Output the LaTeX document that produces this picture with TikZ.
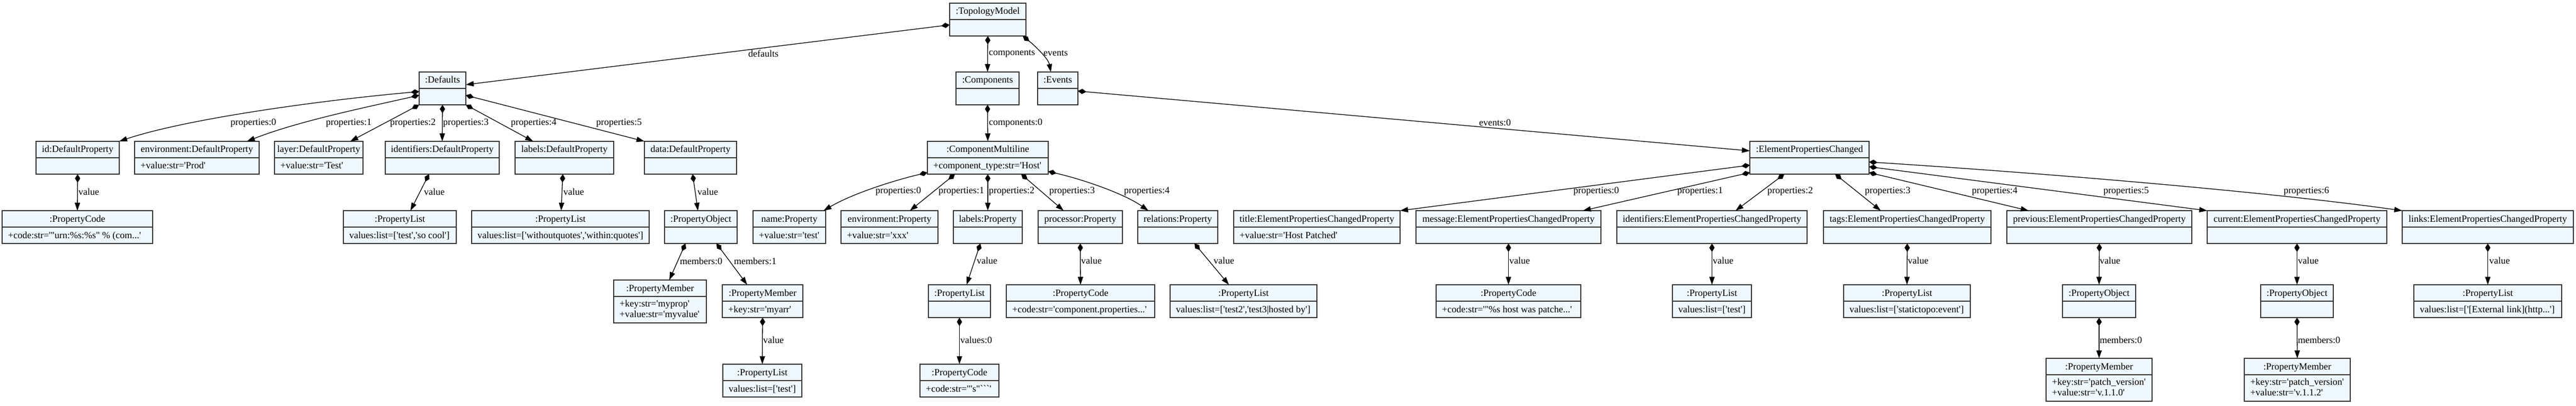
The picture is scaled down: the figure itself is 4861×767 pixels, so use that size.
\documentclass[tikz,border=0pt]{standalone}
\usepackage{fontspec}
\newfontfamily\gvfont{Liberation Serif}
\usetikzlibrary{arrows.meta,calc}
\definecolor{boxfill}{HTML}{F0F8FF}
\definecolor{boxdraw}{HTML}{333333}
\newcommand\obox[6]{%
  \pgfmathsetmacro\obw{#3-#2}%
  \node[objbox, minimum width=\obw pt, minimum height=62pt, anchor=north west] (#1) at (#2,#4) {};
  \draw[objline] ($(#1.north west)+(0,31)$) -- ($(#1.north east)+(0,31)$);
  \node[hdrtext] (#1-h) at ($(#1.north)+(0,21)$) {#5};
  \node[attrtext] (#1-a) at ($(#1.north west)+(11,52)$) {#6};
}
\newcommand\oboxm[7]{%
  \pgfmathsetmacro\obw{#3-#2}%
  \node[objbox, minimum width=\obw pt, minimum height=81pt, anchor=north west] (#1) at (#2,#4) {};
  \draw[objline] ($(#1.north west)+(0,31)$) -- ($(#1.north east)+(0,31)$);
  \node[hdrtext] (#1-h) at ($(#1.north)+(0,21)$) {#5};
  \node[attrtext] (#1-a) at ($(#1.north west)+(11,50.5)$) {#6};
  \node[attrtext] (#1-b) at ($(#1.north west)+(11,70)$) {#7};
}
\begin{document}
\begin{tikzpicture}[x=1pt,y=-1pt,
  objbox/.style={draw=boxdraw, fill=boxfill, line width=1.5pt, rectangle, inner sep=0pt, outer sep=0pt},
  objline/.style={draw=boxdraw, line width=1.5pt},
  gvtext/.style={font=\gvfont\fontsize{18}{21}\selectfont, inner sep=0pt},
  hdrtext/.style={gvtext, anchor=base},
  attrtext/.style={gvtext, anchor=base west},
  lbl/.style={gvtext, anchor=west},
  comp/.style={line width=1.3pt, {Diamond[length=16pt,width=10pt]}-{Triangle[length=15pt,width=10pt]}},
]
\useasboundingbox (0,0) rectangle (4861,767);
\fill[white] (0,0) rectangle (4861,767);

% rank 0
\obox{tm}{1792}{1936}{6}{:TopologyModel}{}
% rank 1
\obox{defaults}{791}{879}{136}{:Defaults}{}
\obox{components}{1804}{1923}{136}{:Components}{}
\obox{events}{1958}{2034}{136}{:Events}{}
% rank 2
\obox{idp}{68}{225}{267}{id:DefaultProperty}{}
\obox{envp}{254}{489}{267}{environment:DefaultProperty}{+value:str='Prod'}
\obox{layerp}{518}{685}{267}{layer:DefaultProperty}{+value:str='Test'}
\obox{identp}{727}{942}{267}{identifiers:DefaultProperty}{}
\obox{labelsp}{972}{1158}{267}{labels:DefaultProperty}{}
\obox{datap}{1216}{1390}{267}{data:DefaultProperty}{}
\obox{cm}{1750}{1978}{267}{:ComponentMultiline}{+component\_type:str='Host'}
\obox{epc}{3302}{3527}{267}{:ElementPropertiesChanged}{}
% rank 3
\obox{idcode}{4}{288}{398}{:PropertyCode}{+code:str='"urn:\%s:\%s" \% (com...'}
\obox{identlist}{648}{861}{398}{:PropertyList}{values:list=['test','so cool']}
\obox{labelslist}{890}{1225}{398}{:PropertyList}{values:list=['withoutquotes','within:quotes']}
\obox{dataobj}{1254}{1391}{398}{:PropertyObject}{}
\obox{namep}{1421}{1558}{398}{name:Property}{+value:str='test'}
\obox{cenvp}{1587}{1770}{398}{environment:Property}{+value:str='xxx'}
\obox{clabelsp}{1799}{1929}{398}{labels:Property}{}
\obox{procp}{1959}{2118}{398}{processor:Property}{}
\obox{relp}{2147}{2298}{398}{relations:Property}{}
\obox{titlep}{2328}{2642}{398}{title:ElementPropertiesChangedProperty}{+value:str='Host Patched'}
\obox{msgp}{2672}{3021}{398}{message:ElementPropertiesChangedProperty}{}
\obox{eidentp}{3051}{3410}{398}{identifiers:ElementPropertiesChangedProperty}{}
\obox{tagsp}{3441}{3757}{398}{tags:ElementPropertiesChangedProperty}{}
\obox{prevp}{3787}{4136}{398}{previous:ElementPropertiesChangedProperty}{}
\obox{curp}{4165}{4504}{398}{current:ElementPropertiesChangedProperty}{}
\obox{linksp}{4533}{4856}{398}{links:ElementPropertiesChangedProperty}{}
% rank 4
\oboxm{mem0}{1158}{1333}{529}{:PropertyMember}{+key:str='myprop'}{+value:str='myvalue'}
\obox{mem1}{1363}{1515}{538}{:PropertyMember}{+key:str='myarr'}
\obox{clabelslist}{1752}{1869}{538}{:PropertyList}{}
\obox{proccode}{1899}{2179}{538}{:PropertyCode}{+code:str='component.properties...'}
\obox{rellist}{2208}{2485}{538}{:PropertyList}{values:list=['test2','test3|hosted by']}
\obox{msgcode}{2710}{2983}{538}{:PropertyCode}{+code:str='"\%s host was patche...'}
\obox{eidentlist}{3156}{3305}{538}{:PropertyList}{values:list=['test']}
\obox{tagslist}{3479}{3718}{538}{:PropertyList}{values:list=['statictopo:event']}
\obox{prevobj}{3892}{4030}{538}{:PropertyObject}{}
\obox{curobj}{4266}{4403}{538}{:PropertyObject}{}
\obox{linkslist}{4555}{4834}{538}{:PropertyList}{values:list=['[External link](http...']}
% rank 5
\obox{mem1list}{1364}{1513}{688}{:PropertyList}{values:list=['test']}
\obox{clabelscode}{1736}{1885}{688}{:PropertyCode}{+code:str='"s"```'}
\oboxm{prevmem}{3861}{4061}{677}{:PropertyMember}{+key:str='patch\_version'}{+value:str='v.1.1.0'}
\oboxm{curmem}{4235}{4435}{677}{:PropertyMember}{+key:str='patch\_version'}{+value:str='v.1.1.2'}

% edges from TopologyModel
\draw[comp] ($(tm.west)+(0,10)$) -- ($(defaults.east)+(0,-7)$);
\draw[comp] (tm.south) -- (components.north);
\draw[comp] ($(tm.south east)+(-6,0)$) .. controls (1950,84) and (1978,110) .. ($(events.north)+(-13,0)$);
\draw[comp] ($(events.east)+(0,5)$) -- ($(epc.west)+(0,-13)$);
\draw[comp] (components.south) -- (cm.north);
% Defaults
\draw[comp] ($(defaults.west)+(0,6)$) .. controls (600,190) and (350,225) .. (idp.north east);
\draw[comp] ($(defaults.west)+(0,13)$) .. controls (680,205) and (560,230) .. ($(envp.north)+(94.5,0)$);
\draw[comp] (defaults.south west) -- ($(layerp.north)+(59.5,0)$);
\draw[comp] (defaults.south) -- (identp.north);
\draw[comp] (defaults.south east) -- ($(labelsp.north)+(-59,0)$);
\draw[comp] ($(defaults.east)+(0,13)$) -- (datap.north west);
\draw[comp] (idp.south) -- (idcode.north);
\draw[comp] ($(identp.south)+(-25,0)$) -- ($(identlist.north)+(20,0)$);
\draw[comp] ($(labelsp.south)+(-3,0)$) -- ($(labelslist.north)+(1.5,0)$);
\draw[comp] ($(datap.south)+(4,0)$) -- ($(dataobj.north)+(-5.5,0)$);
\draw[comp] ($(dataobj.south)+(-29,0)$) -- ($(mem0.north)+(17.5,0)$);
\draw[comp] ($(dataobj.south)+(29.5,0)$) -- ($(mem1.north)+(-29,0)$);
\draw[comp] (mem1.south) -- (mem1list.north);
% ComponentMultiline
\draw[comp] ($(cm.south west)+(0,-3)$) .. controls (1690,340) and (1610,365) .. ($(namep.north east)+(-4,0)$);
\draw[comp] ($(cm.south)+(-62,0)$) -- ($(cenvp.north)+(38.5,0)$);
\draw[comp] (cm.south) -- (clabelsp.north);
\draw[comp] ($(cm.south)+(63,0)$) -- ($(procp.north)+(-31.5,0)$);
\draw[comp] ($(cm.south east)+(0,-5)$) .. controls (2040,338) and (2120,365) .. ($(relp.north)+(-55.5,0)$);
\draw[comp] ($(clabelsp.south)+(-14,0)$) -- ($(clabelslist.north)+(13.5,0)$);
\draw[comp] (procp.south) -- (proccode.north);
\draw[comp] ($(relp.south)+(31.5,0)$) -- ($(rellist.north)+(-27.5,0)$);
\draw[comp] (clabelslist.south) -- (clabelscode.north);
% ElementPropertiesChanged
\draw[comp] ($(epc.west)+(0,14)$) -- (titlep.north east);
\draw[comp] ($(epc.south west)+(0,-3)$) -- ($(msgp.north)+(140.5,0)$);
\draw[comp] ($(epc.south)+(-47.5,0)$) -- ($(eidentp.north)+(44.5,0)$);
\draw[comp] ($(epc.south)+(48.5,0)$) -- ($(tagsp.north)+(-50,0)$);
\draw[comp] ($(epc.south east)+(0,-3)$) -- ($(prevp.north)+(-133.5,0)$);
\draw[comp] ($(epc.east)+(0,17)$) -- (curp.north west);
\draw[comp] ($(epc.east)+(0,8)$) .. controls (3900,330) and (4300,365) .. (linksp.north west);
\draw[comp] (msgp.south) -- (msgcode.north);
\draw[comp] (eidentp.south) -- (eidentlist.north);
\draw[comp] (tagsp.south) -- (tagslist.north);
\draw[comp] (prevp.south) -- (prevobj.north);
\draw[comp] (curp.south) -- (curobj.north);
\draw[comp] (linksp.south) -- (linkslist.north);
\draw[comp] (prevobj.south) -- (prevmem.north);
\draw[comp] (curobj.south) -- (curmem.north);

% labels
\node[lbl] (l01) at (1412,101) {defaults};
\node[lbl] (l02) at (1866,101) {components};
\node[lbl] (l03) at (1969,101) {events};
\node[lbl] (l04) at (1866,232) {components:0};
\node[lbl] (l05) at (2791,232) {events:0};
\node[lbl] (l06) at (435,232) {properties:0};
\node[lbl] (l07) at (615,232) {properties:1};
\node[lbl] (l08) at (736,232) {properties:2};
\node[lbl] (l09) at (836,232) {properties:3};
\node[lbl] (l10) at (964,232) {properties:4};
\node[lbl] (l11) at (1125,232) {properties:5};
\node[lbl] (l12) at (148,362) {value};
\node[lbl] (l13) at (800,362) {value};
\node[lbl] (l14) at (1063,362) {value};
\node[lbl] (l15) at (1316,362) {value};
\node[lbl] (l16) at (1283,493) {members:0};
\node[lbl] (l17) at (1385,493) {members:1};
\node[lbl] (l18) at (1440,642) {value};
\node[lbl] (l19) at (1652,361) {properties:0};
\node[lbl] (l20) at (1771,361) {properties:1};
\node[lbl] (l21) at (1866,361) {properties:2};
\node[lbl] (l22) at (1980,361) {properties:3};
\node[lbl] (l23) at (2121,361) {properties:4};
\node[lbl] (l24) at (1843,492) {value};
\node[lbl] (l25) at (2040,492) {value};
\node[lbl] (l26) at (2290,492) {value};
\node[lbl] (l27) at (1812,642) {values:0};
\node[lbl] (l28) at (2969,361) {properties:0};
\node[lbl] (l29) at (3165,361) {properties:1};
\node[lbl] (l30) at (3335,361) {properties:2};
\node[lbl] (l31) at (3519,361) {properties:3};
\node[lbl] (l32) at (3721,361) {properties:4};
\node[lbl] (l33) at (3969,361) {properties:5};
\node[lbl] (l34) at (4309,361) {properties:6};
\node[lbl] (l35) at (2848,492) {value};
\node[lbl] (l36) at (3232,492) {value};
\node[lbl] (l37) at (3600,492) {value};
\node[lbl] (l38) at (3962,492) {value};
\node[lbl] (l39) at (4336,492) {value};
\node[lbl] (l40) at (4697,492) {value};
\node[lbl] (l41) at (3962,642) {members:0};
\node[lbl] (l42) at (4336,642) {members:0};
\end{tikzpicture}
\end{document}
